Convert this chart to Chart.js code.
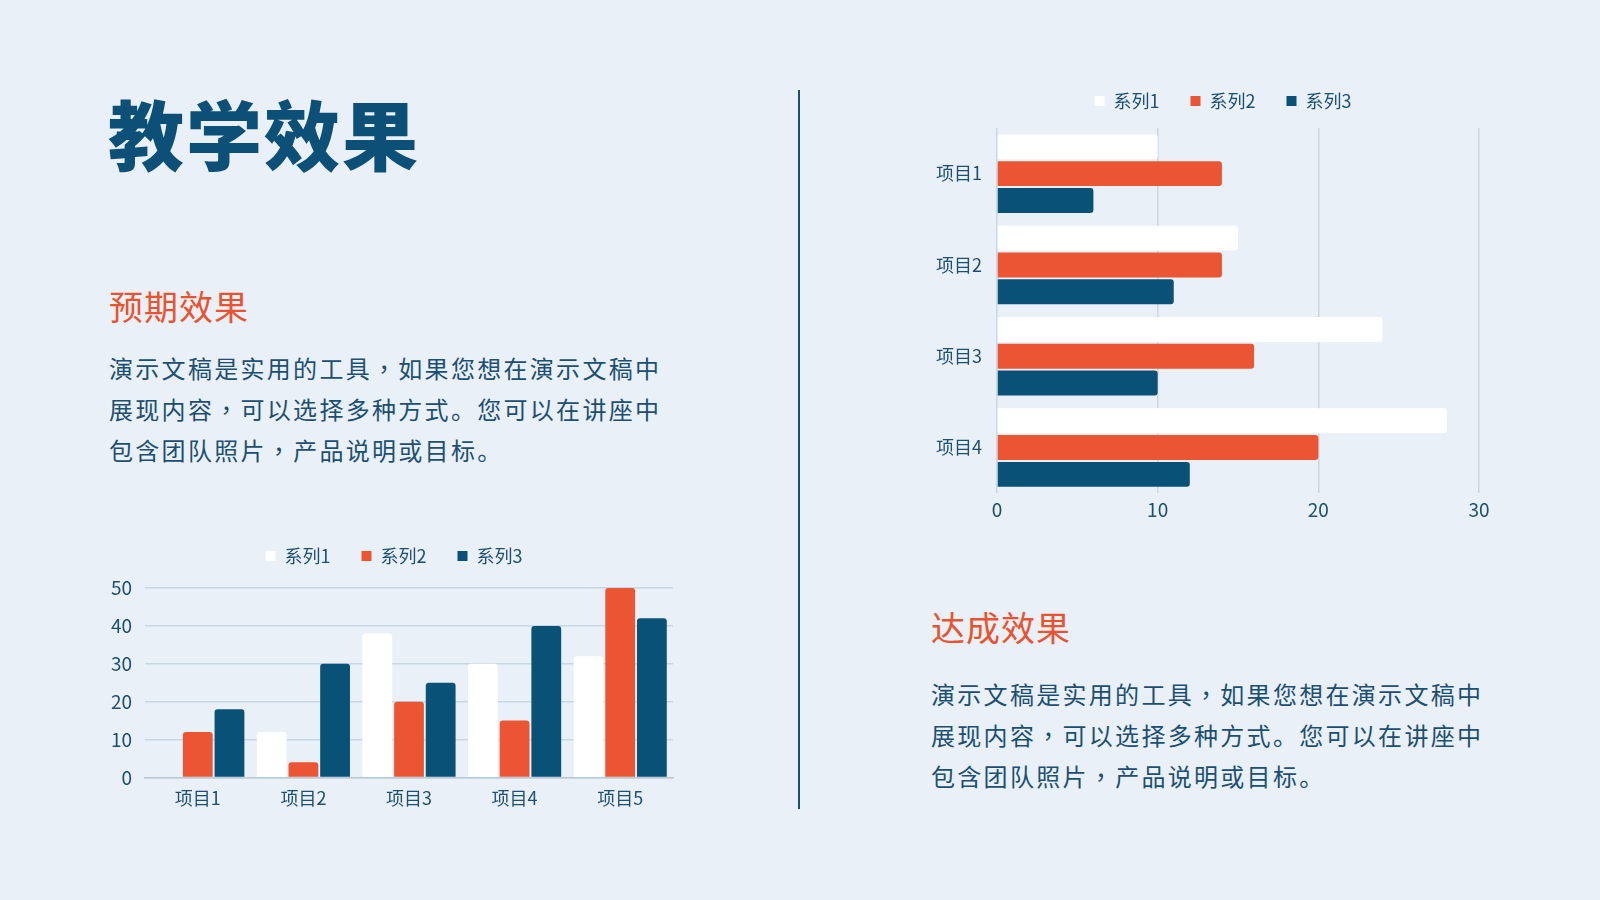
<!DOCTYPE html>
<html lang="zh-CN">
<head>
<meta charset="utf-8">
<title>教学效果</title>
<script src="https://cdn.jsdelivr.net/npm/chart.js@4.4.1/dist/chart.umd.min.js"></script>
<style>
  html, body { margin: 0; padding: 0; }
  body {
    width: 1600px; height: 900px; overflow: hidden; position: relative;
    background: #e9f0f7;
    font-family: "Noto Sans CJK SC", "Noto Sans", sans-serif;
    color: #1c4f72;
  }
  .title {
    position: absolute; left: 108px; top: 94px;
    font-size: 76px; line-height: 76px; font-weight: 900;
    letter-spacing: 2px; color: #0c4f77; white-space: nowrap;
  }
  .heading {
    position: absolute; font-size: 34px; line-height: 34px;
    color: #e9532f; letter-spacing: 1px; white-space: nowrap;
  }
  .para {
    position: absolute; font-size: 24px; line-height: 41px;
    letter-spacing: 2.3px; white-space: nowrap; color: #1c4f72;
  }
  .para .c { font-family: "Noto Sans CJK TC", "Noto Sans CJK SC", sans-serif; }
  .divider {
    position: absolute; left: 798px; top: 90px; width: 2px; height: 719px;
    background: #1c4f72;
  }
  .chartBox { position: absolute; }
</style>
</head>
<body>
<div class="title">教学效果</div>

<div class="heading" style="left:109px; top:289px;">预期效果</div>
<div class="para" style="left:109px; top:347px;">演示文稿是实用的工具<span class="c" lang="zh-TW">，</span>如果您想在演示文稿中<br>展现内容<span class="c" lang="zh-TW">，</span>可以选择多种方式。您可以在讲座中<br>包含团队照片<span class="c" lang="zh-TW">，</span>产品说明或目标。</div>

<div class="divider"></div>

<div class="heading" style="left:931px; top:610px;">达成效果</div>
<div class="para" style="left:931px; top:673px;">演示文稿是实用的工具<span class="c" lang="zh-TW">，</span>如果您想在演示文稿中<br>展现内容<span class="c" lang="zh-TW">，</span>可以选择多种方式。您可以在讲座中<br>包含团队照片<span class="c" lang="zh-TW">，</span>产品说明或目标。</div>

<div class="chartBox" style="left:60px; top:516px; width:630px; height:303px;"><canvas id="colChart"></canvas></div>
<div class="chartBox" style="left:900px; top:61px; width:600px; height:465px;"><canvas id="barChart"></canvas></div>

<script>
// data
const seriesNames = ['系列1', '系列2', '系列3'];
const seriesColors = ['#ffffff', '#ec5533', '#0a5177'];

const colCategories = ['项目1', '项目2', '项目3', '项目4', '项目5'];
const colSeries1 = [0, 12, 38, 30, 32];
const colSeries2 = [12, 4, 20, 15, 50];
const colSeries3 = [18, 30, 25, 40, 42];
const colTicks = [0, 10, 20, 30, 40, 50];

const barCategories = ['项目1', '项目2', '项目3', '项目4'];
const barSeries1 = [10, 15, 24, 28];
const barSeries2 = [14, 14, 16, 20];
const barSeries3 = [6, 11, 10, 12];
const barTicks = [0, 10, 20, 30];

const textColor = '#1c4f72';
const gridColor = '#c8d7e3';

Chart.defaults.font.family = '"Noto Sans CJK SC", "Noto Sans", sans-serif';
Chart.defaults.color = textColor;

// fixes legend height and nudges it sideways so it sits like in the slide
const legendPlace = {
  id: 'legendPlace',
  beforeLayout(chart) {
    const legend = chart.legend;
    if (!legend || legend._placed) return;
    const fit = legend.fit;
    legend.fit = function () {
      fit.call(this);
      this.height = chart.options.plugins.legendPlace.height;
    };
    legend._placed = true;
  },
  afterUpdate(chart, args, opts) {
    chart.legend.left += opts.shift;
    chart.legend.right += opts.shift;
  }
};

function makeDatasets(values) {
  return values.map((data, i) => ({
    label: seriesNames[i],
    data,
    backgroundColor: seriesColors[i],
    borderWidth: 0,
    borderRadius: 3
  }));
}

function legendOpts() {
  return {
    position: 'top',
    labels: {
      boxWidth: 10,
      boxHeight: 10,
      padding: 31,
      color: textColor,
      font: { size: 18 }
    }
  };
}

new Chart(document.getElementById('colChart'), {
  type: 'bar',
  data: {
    labels: colCategories,
    datasets: makeDatasets([colSeries1, colSeries2, colSeries3])
  },
  options: {
    responsive: true,
    maintainAspectRatio: false,
    animation: false,
    categoryPercentage: 0.9,
    barPercentage: 0.94,
    layout: { padding: { right: 17 } },
    plugins: {
      legend: legendOpts(),
      legendPlace: { height: 72, shift: 27.5 },
      tooltip: { enabled: false }
    },
    scales: {
      x: {
        grid: { display: false, drawTicks: false },
        border: { display: true, color: '#b8cad8', width: 1.5 },
        ticks: { padding: 10, color: textColor, font: { size: 18 } }
      },
      y: {
        min: colTicks[0],
        max: colTicks[colTicks.length - 1],
        grid: { color: gridColor, lineWidth: 1.5, drawTicks: false },
        border: { display: false },
        ticks: { stepSize: colTicks[1] - colTicks[0], padding: 13, color: textColor, font: { size: 19 } },
        afterFit(axis) { axis.width = 85; }
      }
    }
  },
  plugins: [legendPlace]
});

new Chart(document.getElementById('barChart'), {
  type: 'bar',
  data: {
    labels: barCategories,
    datasets: makeDatasets([barSeries1, barSeries2, barSeries3])
  },
  options: {
    indexAxis: 'y',
    responsive: true,
    maintainAspectRatio: false,
    animation: false,
    categoryPercentage: 0.88,
    barPercentage: 0.93,
    layout: { padding: { right: 21 } },
    plugins: {
      legend: legendOpts(),
      legendPlace: { height: 67, shift: 33.5 },
      tooltip: { enabled: false }
    },
    scales: {
      x: {
        min: barTicks[0],
        max: barTicks[barTicks.length - 1],
        grid: { color: gridColor, lineWidth: 1.5, drawTicks: false },
        border: { display: false },
        ticks: { stepSize: barTicks[1] - barTicks[0], padding: 5, color: textColor, font: { size: 19 } }
      },
      y: {
        grid: { display: false, drawTicks: false },
        border: { display: false },
        ticks: { padding: 15, color: textColor, font: { size: 18 } },
        afterFit(axis) { axis.width = 97; }
      }
    }
  },
  plugins: [legendPlace]
});
</script>
</body>
</html>
